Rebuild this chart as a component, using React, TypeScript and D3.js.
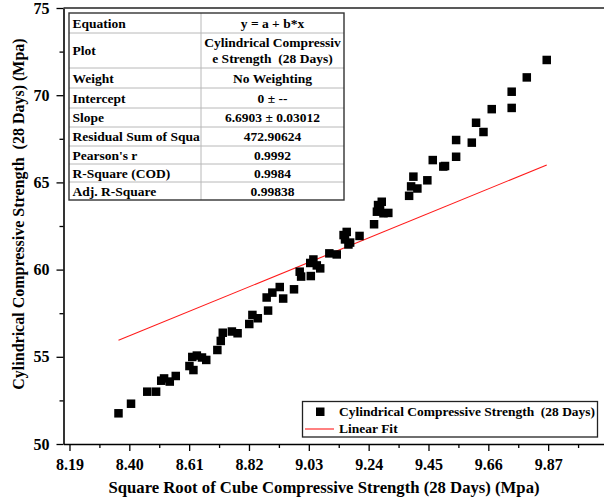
import { useEffect, useRef } from "react";
import * as d3 from "d3";

// square root of cube strength (x) and cylindrical strength (y)
const sqrtCube = [
  8.362, 8.406, 8.463, 8.494, 8.512, 8.522, 8.542, 8.563, 8.611, 8.625, 8.621, 8.637,
  8.655, 8.67, 8.709, 8.721, 8.728, 8.76, 8.78, 8.821, 8.832, 8.851, 8.882, 8.887,
  8.902, 8.928, 8.94, 8.978, 8.998, 9.003, 9.037, 9.035, 9.046, 9.058, 9.07, 9.102,
  9.128, 9.152, 9.163, 9.157, 9.169, 9.175, 9.208, 9.259, 9.273, 9.28, 9.292, 9.309,
  9.286, 9.269, 9.382, 9.389, 9.397, 9.411, 9.446, 9.465, 9.502, 9.508, 9.547, 9.547,
  9.602, 9.617, 9.643, 9.672, 9.742, 9.742, 9.795, 9.865,
];
const cylStrength = [
  51.76, 52.31, 53.0, 53.0, 53.63, 53.76, 53.58, 53.9, 54.47, 54.24, 54.99, 55.07,
  54.96, 54.82, 55.39, 55.91, 56.38, 56.45, 56.35, 56.88, 57.4, 57.21, 58.4, 57.65,
  58.68, 59.0, 58.34, 58.87, 59.88, 59.6, 59.63, 60.38, 60.58, 60.24, 60.07, 60.93,
  60.87, 61.98, 62.16, 61.73, 61.44, 61.55, 61.93, 62.6, 63.7, 63.45, 63.23, 63.25,
  63.89, 63.32, 64.23, 64.77, 65.33, 64.65, 65.12, 66.28, 65.91, 65.94, 66.47, 67.43,
  67.28, 68.42, 67.89, 69.2, 69.27, 70.2, 71.02, 72.02,
];

const slope = 6.6903;

const xTicks = [8.19, 8.4, 8.61, 8.82, 9.03, 9.24, 9.45, 9.66, 9.87];
const yTicks = [50, 55, 60, 65, 70, 75];

const tableLabels = [
  "Equation", "Plot", "Weight", "Intercept", "Slope",
  "Residual Sum of Squares", "Pearson's r", "R-Square (COD)", "Adj. R-Square",
];
const tableValues = [
  ["y = a + b*x"],
  ["Cylindrical Compressiv", "e Strength  (28 Days)"],
  ["No Weighting"],
  ["0 \u00b1 --"],
  ["6.6903 \u00b1 0.03012"],
  ["472.90624"],
  ["0.9992"],
  ["0.9984"],
  ["0.99838"],
];
const rowEdges = [13, 33, 68, 88, 108, 127, 146, 164, 182, 200];

const font = "'Liberation Serif', 'Times New Roman', serif";

export default function App() {
  const ref = useRef<SVGSVGElement>(null);

  useEffect(() => {
    const svg = d3.select(ref.current);
    svg.selectAll("*").remove();

    const left = 63.5, right = 604, top = 8, bottom = 444;
    const x = d3.scaleLinear().domain([8.169, 10.066]).range([left, right]);
    const y = d3.scaleLinear().domain([50, 75]).range([bottom, top]);

    const minorX = d3.range(0, 9).map((i) => 8.295 + 0.21 * i).filter((v) => v < 10.06);
    const minorY = [52.5, 57.5, 62.5, 67.5, 72.5];

    // minor ticks
    svg.append("g")
      .attr("transform", `translate(0,${bottom})`)
      .call(d3.axisBottom(x).tickValues(minorX).tickSize(4).tickFormat(() => "").tickSizeOuter(0))
      .call((g) => g.select(".domain").remove())
      .selectAll("line").attr("stroke-width", 1.3);
    svg.append("g")
      .attr("transform", `translate(${left},0)`)
      .call(d3.axisLeft(y).tickValues(minorY).tickSize(4).tickFormat(() => "").tickSizeOuter(0))
      .call((g) => g.select(".domain").remove())
      .selectAll("line").attr("stroke-width", 1.3);

    // major axes
    const xa = svg.append("g")
      .attr("transform", `translate(0,${bottom})`)
      .call(d3.axisBottom(x).tickValues(xTicks).tickSize(7).tickPadding(8).tickSizeOuter(0).tickFormat(d3.format(".2f")));
    xa.select(".domain").attr("stroke-width", 1.6);
    xa.selectAll("line").attr("stroke-width", 1.3);
    xa.selectAll("text").attr("font-family", font).attr("font-size", 16).attr("font-weight", "bold").attr("fill", "#000");

    const ya = svg.append("g")
      .attr("transform", `translate(${left},0)`)
      .call(d3.axisLeft(y).tickValues(yTicks).tickSize(7).tickPadding(7).tickSizeOuter(0));
    ya.select(".domain").attr("stroke-width", 1.6);
    ya.selectAll("line").attr("stroke-width", 1.3);
    ya.selectAll("text").attr("font-family", font).attr("font-size", 16).attr("font-weight", "bold").attr("fill", "#000");

    // top frame line
    svg.append("line")
      .attr("x1", left).attr("x2", right).attr("y1", top).attr("y2", top)
      .attr("stroke", "#222").attr("stroke-width", 1.6);

    // axis titles
    svg.append("text")
      .attr("x", 324).attr("y", 493)
      .attr("text-anchor", "middle")
      .attr("font-family", font).attr("font-size", 16.7).attr("font-weight", "bold")
      .text("Square Root of Cube Compressive Strength (28 Days) (Mpa)");
    svg.append("text")
      .attr("transform", `translate(24,${(top + bottom) / 2 - 12}) rotate(-90)`)
      .attr("text-anchor", "middle")
      .attr("font-family", font).attr("font-size", 16).attr("font-weight", "bold")
      .attr("xml:space", "preserve")
      .text("Cylindrical Compressive Strength  (28 Days) (Mpa)");

    // fit line
    const [x0, x1] = d3.extent(sqrtCube) as [number, number];
    svg.append("line")
      .attr("x1", x(x0)).attr("y1", y(slope * x0))
      .attr("x2", x(x1)).attr("y2", y(slope * x1))
      .attr("stroke", "#ff1a1a").attr("stroke-width", 1.1);

    // points
    const s = 8.5;
    svg.append("g")
      .selectAll("rect")
      .data(sqrtCube)
      .enter()
      .append("rect")
      .attr("x", (d) => x(d) - s / 2)
      .attr("y", (_, i) => y(cylStrength[i]) - s / 2)
      .attr("width", s)
      .attr("height", s)
      .attr("fill", "#000");

    // results table
    const tx0 = 69, tx1 = 344, tmid = 201;
    const table = svg.append("g");
    table.append("rect")
      .attr("x", tx0).attr("y", rowEdges[0])
      .attr("width", tx1 - tx0).attr("height", rowEdges[rowEdges.length - 1] - rowEdges[0])
      .attr("fill", "#fff");
    svg.append("defs").append("clipPath").attr("id", "lab")
      .append("rect").attr("x", tx0).attr("y", 0).attr("width", tmid - tx0 - 1).attr("height", 220);
    rowEdges.slice(1, -1).forEach((e) => {
      table.append("line").attr("x1", tx0).attr("x2", tx1).attr("y1", e).attr("y2", e)
        .attr("stroke", "#b8b8b8").attr("stroke-width", 1);
    });
    table.append("line").attr("x1", tmid).attr("x2", tmid)
      .attr("y1", rowEdges[0]).attr("y2", rowEdges[rowEdges.length - 1])
      .attr("stroke", "#b8b8b8").attr("stroke-width", 1);
    table.append("rect")
      .attr("x", tx0).attr("y", rowEdges[0])
      .attr("width", tx1 - tx0).attr("height", rowEdges[rowEdges.length - 1] - rowEdges[0])
      .attr("fill", "none").attr("stroke", "#333").attr("stroke-width", 1.4);

    tableLabels.forEach((lab, i) => {
      const mid = (rowEdges[i] + rowEdges[i + 1]) / 2;
      table.append("text")
        .attr("x", tx0 + 3.5).attr("y", mid + 4.5)
        .attr("clip-path", "url(#lab)")
        .attr("font-family", font).attr("font-size", 13.5).attr("font-weight", "bold")
        .text(lab);
      const vals = tableValues[i];
      vals.forEach((v, j) => {
        table.append("text")
          .attr("x", (tmid + tx1) / 2)
          .attr("y", mid + 4.5 + (j - (vals.length - 1) / 2) * 16)
          .attr("text-anchor", "middle")
          .attr("font-family", font).attr("font-size", 13.5).attr("font-weight", "bold")
          .attr("xml:space", "preserve")
          .text(v);
      });
    });

    // legend
    const lg = svg.append("g");
    lg.append("rect")
      .attr("x", 302.5).attr("y", 401.5).attr("width", 295).attr("height", 35.5)
      .attr("fill", "#fff").attr("stroke", "#222").attr("stroke-width", 1.3);
    lg.append("rect").attr("x", 316).attr("y", 407.5).attr("width", 8.5).attr("height", 8.5).attr("fill", "#000");
    lg.append("text").attr("x", 339).attr("y", 416)
      .attr("font-family", font).attr("font-size", 13.5).attr("font-weight", "bold")
      .attr("xml:space", "preserve")
      .attr("textLength", 256).attr("lengthAdjust", "spacingAndGlyphs")
      .text("Cylindrical Compressive Strength  (28 Days)");
    lg.append("line").attr("x1", 305).attr("x2", 334).attr("y1", 429).attr("y2", 429)
      .attr("stroke", "#ff1a1a").attr("stroke-width", 1.1);
    lg.append("text").attr("x", 339).attr("y", 433)
      .attr("font-family", font).attr("font-size", 13.5).attr("font-weight", "bold")
      .text("Linear Fit");
  }, []);

  return (
    <svg
      ref={ref}
      width={604}
      height={499}
      style={{ position: "absolute", left: 0, top: 0, background: "#fff" }}
    ></svg>
  );
}
